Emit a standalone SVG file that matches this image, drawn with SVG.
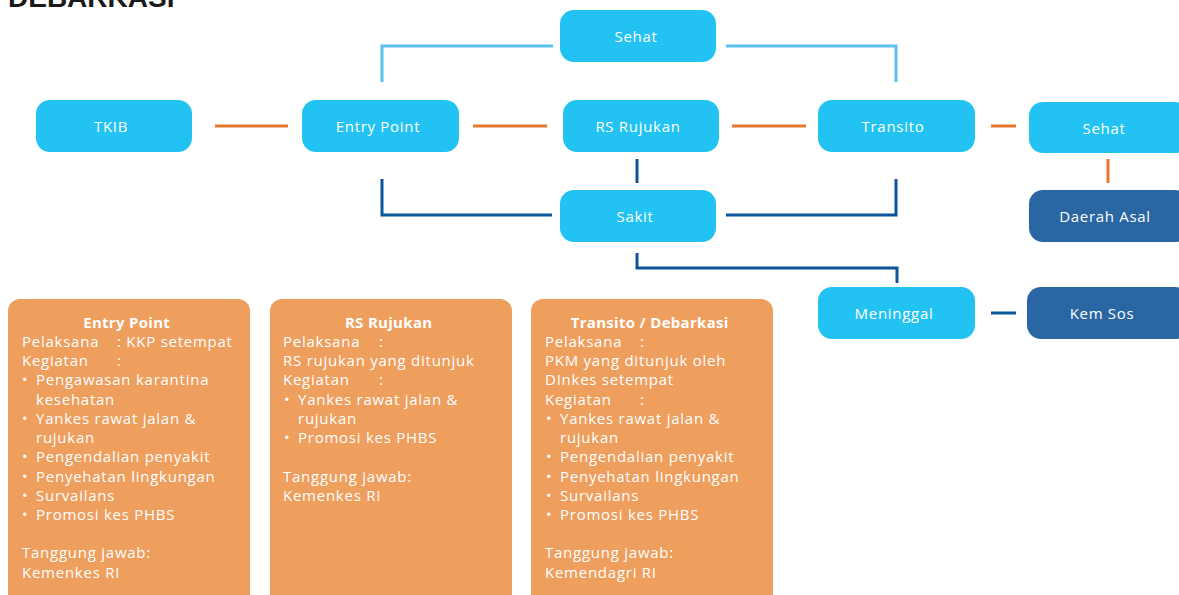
<svg xmlns="http://www.w3.org/2000/svg" width="1179" height="595" viewBox="0 0 1179 595">
<style>
.n{fill:#22C3F3}
.d{fill:#2A66A3}
.nt{font-family:"Open Sans","Liberation Sans",sans-serif;font-size:15px;letter-spacing:0.7px;fill:#ffffff;text-anchor:middle}
.lb{stroke:#5BC2EE;stroke-width:3;fill:none}
.db{stroke:#0B5599;stroke-width:3;fill:none}
.or{stroke:#E8772E;stroke-width:3;fill:none}
.ob{fill:#EE9E5D}
.bt{font-family:"Open Sans","Liberation Sans",sans-serif;font-size:15px;letter-spacing:0.75px;fill:#ffffff}
.bh{font-weight:bold;text-anchor:middle;letter-spacing:0.3px}
</style>
<rect width="1179" height="595" fill="#ffffff"/>
<text x="8" y="7" font-family="Liberation Sans,sans-serif" font-weight="bold" font-size="28" fill="#1a1a1a">DEBARKASI</text>

<g id="connectors">
<polyline class="lb" points="382,82 382,46 553,46"/>
<polyline class="lb" points="726,46 896,46 896,82"/>
<line class="or" x1="215" y1="126" x2="288" y2="126"/>
<line class="or" x1="473" y1="126" x2="547" y2="126"/>
<line class="or" x1="732" y1="126" x2="806" y2="126"/>
<line class="or" x1="991" y1="126" x2="1016" y2="126"/>
<line class="or" x1="1108" y1="159" x2="1108" y2="183"/>
<polyline class="db" points="382,179 382,215 552,215"/>
<polyline class="db" points="726,215 896,215 896,179"/>
<line class="db" x1="637" y1="159" x2="637" y2="183"/>
<polyline class="db" points="637,253 637,268 897,268 897,283"/>
<line class="db" x1="991" y1="313" x2="1016" y2="313"/>
</g>

<g id="node-sehat-top"><rect class="n" x="560" y="10" width="156" height="52" rx="14"/><text class="nt" x="636" y="42">Sehat</text></g>
<g id="node-tkib"><rect class="n" x="36" y="100" width="156" height="52" rx="14"/><text class="nt" x="111" y="132">TKIB</text></g>
<g id="node-entry"><rect class="n" x="302" y="100" width="157" height="52" rx="14"/><text class="nt" x="378" y="132">Entry Point</text></g>
<g id="node-rs"><rect class="n" x="563" y="100" width="156" height="52" rx="14"/><text class="nt" x="638" y="132">RS Rujukan</text></g>
<g id="node-transito"><rect class="n" x="818" y="100" width="157" height="52" rx="14"/><text class="nt" x="893" y="132">Transito</text></g>
<g id="node-sehat-right"><rect class="n" x="1029" y="102" width="160" height="51" rx="14"/><text class="nt" x="1104" y="134">Sehat</text></g>
<g id="node-daerah"><rect class="d" x="1029" y="190" width="160" height="52" rx="14"/><text class="nt" x="1105" y="222">Daerah Asal</text></g>
<g id="node-sakit"><rect class="n" x="560" y="190" width="156" height="52" rx="14"/><text class="nt" x="635" y="222">Sakit</text></g>
<g id="node-meninggal"><rect class="n" x="818" y="287" width="157" height="52" rx="14"/><text class="nt" x="894" y="319">Meninggal</text></g>
<g id="node-kemsos"><rect class="d" x="1027" y="287" width="162" height="52" rx="14"/><text class="nt" x="1102" y="319">Kem Sos</text></g>

<g id="box-entry">
<rect class="ob" x="8" y="299" width="242" height="310" rx="12"/>
<text class="bt">
<tspan class="bh" x="129" y="328">Entry Point</tspan>
<tspan x="22" y="347">Pelaksana</tspan><tspan x="117" y="347">: KKP setempat</tspan>
<tspan x="22" y="366">Kegiatan</tspan><tspan x="117" y="366">:</tspan>
<tspan x="22" y="385">•</tspan><tspan x="36" y="385">Pengawasan karantina</tspan>
<tspan x="36" y="405">kesehatan</tspan>
<tspan x="22" y="424">•</tspan><tspan x="36" y="424">Yankes rawat jalan &amp;</tspan>
<tspan x="36" y="443">rujukan</tspan>
<tspan x="22" y="462">•</tspan><tspan x="36" y="462">Pengendalian penyakit</tspan>
<tspan x="22" y="482">•</tspan><tspan x="36" y="482">Penyehatan lingkungan</tspan>
<tspan x="22" y="501">•</tspan><tspan x="36" y="501">Survailans</tspan>
<tspan x="22" y="520">•</tspan><tspan x="36" y="520">Promosi kes PHBS</tspan>
<tspan x="22" y="558">Tanggung jawab:</tspan>
<tspan x="22" y="578">Kemenkes RI</tspan>
</text>
</g>

<g id="box-rs">
<rect class="ob" x="270" y="299" width="242" height="310" rx="12"/>
<text class="bt">
<tspan class="bh" x="391" y="328">RS Rujukan</tspan>
<tspan x="283" y="347">Pelaksana</tspan><tspan x="379" y="347">:</tspan>
<tspan x="283" y="366">RS rujukan yang ditunjuk</tspan>
<tspan x="283" y="385">Kegiatan</tspan><tspan x="379" y="385">:</tspan>
<tspan x="284" y="405">•</tspan><tspan x="298" y="405">Yankes rawat jalan &amp;</tspan>
<tspan x="298" y="424">rujukan</tspan>
<tspan x="284" y="443">•</tspan><tspan x="298" y="443">Promosi kes PHBS</tspan>
<tspan x="283" y="482">Tanggung jawab:</tspan>
<tspan x="283" y="501">Kemenkes RI</tspan>
</text>
</g>

<g id="box-transito">
<rect class="ob" x="531" y="299" width="242" height="310" rx="12"/>
<text class="bt">
<tspan class="bh" x="652" y="328">Transito / Debarkasi</tspan>
<tspan x="545" y="347">Pelaksana</tspan><tspan x="640" y="347">:</tspan>
<tspan x="545" y="366">PKM yang ditunjuk oleh</tspan>
<tspan x="545" y="385">DInkes setempat</tspan>
<tspan x="545" y="405">Kegiatan</tspan><tspan x="640" y="405">:</tspan>
<tspan x="546" y="424">•</tspan><tspan x="560" y="424">Yankes rawat jalan &amp;</tspan>
<tspan x="560" y="443">rujukan</tspan>
<tspan x="546" y="462">•</tspan><tspan x="560" y="462">Pengendalian penyakit</tspan>
<tspan x="546" y="482">•</tspan><tspan x="560" y="482">Penyehatan lingkungan</tspan>
<tspan x="546" y="501">•</tspan><tspan x="560" y="501">Survailans</tspan>
<tspan x="546" y="520">•</tspan><tspan x="560" y="520">Promosi kes PHBS</tspan>
<tspan x="545" y="558">Tanggung jawab:</tspan>
<tspan x="545" y="578">Kemendagri RI</tspan>
</text>
</g>
</svg>
